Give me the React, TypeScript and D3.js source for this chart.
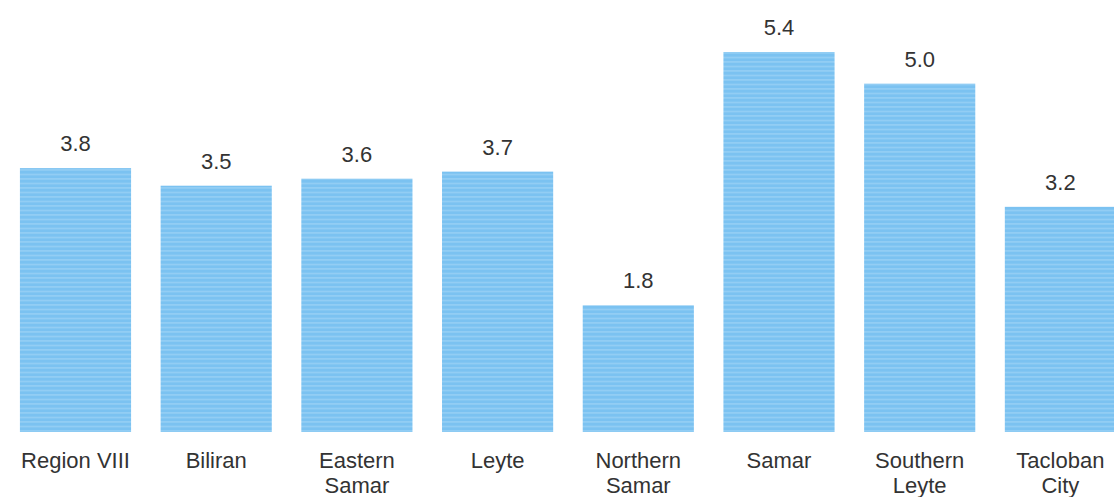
import React from "react";
import * as d3 from "d3";

const categories = [
  ["Region VIII"],
  ["Biliran"],
  ["Eastern", "Samar"],
  ["Leyte"],
  ["Northern", "Samar"],
  ["Samar"],
  ["Southern", "Leyte"],
  ["Tacloban", "City"],
];
const values = [3.75, 3.5, 3.6, 3.7, 1.8, 5.4, 4.95, 3.2];
const valueLabels = ["3.8", "3.5", "3.6", "3.7", "1.8", "5.4", "5.0", "3.2"];

const W = 1114;
const H = 497;

export default function App() {
  const keys = categories.map((c) => c.join(" "));
  const x = d3
    .scaleBand<string>()
    .domain(keys)
    .range([5.15, 5.15 + 8 * 140.7])
    .paddingInner(0.21)
    .paddingOuter(0.105);
  const y = d3.scaleLinear().domain([0, 5.4]).range([432, 52]);
  const font = "'Liberation Sans', Arial, sans-serif";

  return (
    <svg
      width={W}
      height={H}
      style={{ position: "absolute", left: 0, top: 0, background: "#fff" }}
    >
      <defs>
        <pattern id="stripes" width="8" height="4.5" patternUnits="userSpaceOnUse">
          <rect width="8" height="4.5" fill="#7bc2f1" />
          <rect y="3" width="8" height="1" fill="#a3d6f6" />
        </pattern>
      </defs>
      {values.map((v, i) => {
        const bx = x(keys[i])!;
        const bw = x.bandwidth();
        return (
          <g key={keys[i]}>
            <rect x={bx} y={y(v)} width={bw} height={y(0) - y(v)} fill="url(#stripes)" />
            <text
              x={bx + bw / 2}
              y={y(v) - 17}
              textAnchor="middle"
              fontFamily={font}
              fontSize={22}
              fill="#333"
            >
              {valueLabels[i]}
            </text>
            {categories[i].map((line, j) => (
              <text
                key={j}
                x={bx + bw / 2}
                y={468 + j * 25}
                textAnchor="middle"
                fontFamily={font}
                fontSize={22}
                fill="#333"
              >
                {line}
              </text>
            ))}
          </g>
        );
      })}
    </svg>
  );
}
